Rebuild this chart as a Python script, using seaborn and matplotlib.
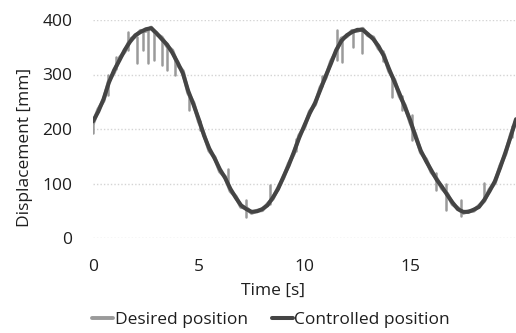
import numpy as np
import pandas as pd
import matplotlib
matplotlib.use("Agg")
import matplotlib.pyplot as plt
import seaborn as sns

# ---------------- data ----------------
time_s = [0.00, 0.25, 0.50, 0.75, 1.00, 1.25, 1.50, 1.75, 2.00, 2.25,
          2.50, 2.75, 3.00, 3.25, 3.50, 3.75, 4.00, 4.25, 4.50, 4.75,
          5.00, 5.25, 5.50, 5.75, 6.00, 6.25, 6.50, 6.75, 7.00, 7.25,
          7.50, 7.75, 8.00, 8.25, 8.50, 8.75, 9.00, 9.25, 9.50, 9.75,
          10.00, 10.25, 10.50, 10.75, 11.00, 11.25, 11.50, 11.75, 12.00, 12.25,
          12.50, 12.75, 13.00, 13.25, 13.50, 13.75, 14.00, 14.25, 14.50, 14.75,
          15.00, 15.25, 15.50, 15.75, 16.00, 16.25, 16.50, 16.75, 17.00, 17.25,
          17.50, 17.75, 18.00, 18.25, 18.50, 18.75, 19.00, 19.25, 19.50, 19.75,
          20.00]

controlled_mm = [214, 232, 255, 285, 308, 326, 345, 360, 372, 378,
                 383, 385, 376, 365, 355, 340, 322, 302, 270, 245,
                 218, 188, 164, 146, 126, 110, 90, 74, 60, 53,
                 48, 49, 53, 60, 74, 90, 112, 133, 158, 184,
                 207, 229, 248, 272, 297, 320, 345, 362, 372, 378,
                 382, 382, 374, 365, 352, 334, 310, 287, 264, 240,
                 216, 186, 160, 141, 124, 107, 94, 79, 65, 53,
                 48, 48, 52, 57, 70, 86, 104, 129, 157, 186,
                 218]

desired_mm = [210, 236, 252, 288, 304, 330, 342, 364, 370, 380,
              380, 386, 374, 368, 352, 344, 318, 306, 266, 248,
              214, 190, 160, 148, 122, 112, 86, 76, 57, 55,
              46, 50, 51, 62, 72, 92, 110, 136, 155, 188,
              204, 232, 245, 276, 294, 324, 342, 366, 370, 380,
              380, 384, 372, 368, 348, 337, 306, 290, 260, 243,
              212, 189, 157, 144, 121, 109, 91, 81, 62, 55,
              46, 49, 50, 59, 68, 89, 101, 132, 154, 189,
              215]

# short spikes in the desired-position signal
spike_time = [0.02, 0.70, 1.10, 1.65, 2.10, 2.35, 2.60, 2.90, 3.25, 3.50,
              3.90, 4.55, 5.05, 6.40, 7.25, 8.35, 9.60, 10.85, 11.55, 11.75,
              12.30, 12.70, 13.70, 14.15, 14.60, 15.10, 16.20, 16.70, 17.40, 18.50,
              19.80]
spike_low = [192, 262, 310, 345, 321, 345, 321, 327, 317, 308,
             300, 235, 198, 100, 38, 62, 160, 278, 327, 323,
             350, 340, 325, 259, 235, 180, 88, 51, 40, 70,
             186]
spike_high = [216, 300, 332, 378, 368, 378, 383, 380, 366, 354,
              332, 262, 215, 126, 70, 97, 182, 298, 381, 362,
              378, 384, 344, 296, 260, 226, 119, 100, 70, 101,
              205]

y_ticks = [0, 100, 200, 300, 400]
x_ticks = [0, 5, 10, 15]

# ---------------- style ----------------
sns.set_theme(style="white")
plt.rcParams["font.family"] = ["Open Sans", "DejaVu Sans"]

TEXT = "#1e1e1e"
DESIRED_C = "#9a9a9a"
CONTROL_C = "#444444"
FS = 12.5

fig = plt.figure(figsize=(5.16, 3.33), dpi=100)
ax = fig.add_axes([93 / 516, 1 - 238 / 333, 423 / 516, 218 / 333])

df_des = pd.DataFrame({"t": time_s, "v": desired_mm})
df_ctl = pd.DataFrame({"t": time_s, "v": controlled_mm})
spk_rows = []
for i, (t, lo, hi) in enumerate(zip(spike_time, spike_low, spike_high)):
    spk_rows.append({"t": t, "v": lo, "id": i})
    spk_rows.append({"t": t, "v": hi, "id": i})
df_spk = pd.DataFrame(spk_rows)

sns.lineplot(data=df_des, x="t", y="v", ax=ax, color=DESIRED_C, lw=2.8,
             sort=False, estimator=None, label="Desired position")
sns.lineplot(data=df_spk, x="t", y="v", units="id", ax=ax, color=DESIRED_C,
             lw=1.8, estimator=None, sort=False, legend=False)
sns.lineplot(data=df_ctl, x="t", y="v", ax=ax, color=CONTROL_C, lw=2.9,
             sort=False, estimator=None, label="Controlled position")

ax.set_xlim(0, 20)
ax.set_ylim(0, 400)
ax.set_xticks(x_ticks)
ax.set_yticks(y_ticks)
ax.tick_params(axis="both", length=0, labelsize=FS, colors=TEXT)
ax.tick_params(axis="y", pad=15)
ax.tick_params(axis="x", pad=15)
for s in ax.spines.values():
    s.set_visible(False)
ax.yaxis.grid(True, color="#d4d4d4", linestyle=(0, (1, 1.5)), lw=1)
ax.xaxis.grid(False)
ax.set_axisbelow(True)

ax.set_ylabel("Displacement [mm]", fontsize=FS, color=TEXT)
ax.yaxis.set_label_coords(-0.142, 0.417)
ax.set_xlabel("Time [s]", fontsize=FS, color=TEXT)
ax.xaxis.set_label_coords(0.4255, -0.205)

ax.get_legend().remove()
h, l = ax.get_legend_handles_labels()
fig.legend(h, l, loc="center", bbox_to_anchor=(271 / 516, 1 - 320 / 333),
           ncol=2, frameon=False, fontsize=FS, handlelength=1.2,
           handletextpad=0.1, columnspacing=1.4, labelcolor=TEXT)

fig.savefig("out.png", dpi=100)
